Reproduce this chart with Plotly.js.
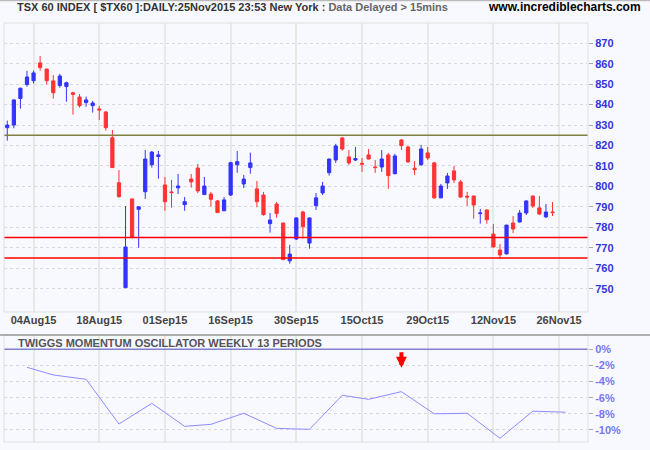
<!DOCTYPE html>
<html><head><meta charset="utf-8">
<script src="https://cdn.plot.ly/plotly-3.0.1.min.js"></script>
<style>html,body{margin:0;padding:0;background:#f8f9ff}#chart{width:650px;height:450px}</style>
</head><body><div id="chart"></div>
<script>
// Trading sessions on the axis (TSX), including the two days after the last close
const sessions = [
 "2015-07-28","2015-07-29","2015-07-30","2015-07-31",
 "2015-08-04","2015-08-05","2015-08-06","2015-08-07",
 "2015-08-10","2015-08-11","2015-08-12","2015-08-13","2015-08-14",
 "2015-08-17","2015-08-18","2015-08-19","2015-08-20","2015-08-21",
 "2015-08-24","2015-08-25","2015-08-26","2015-08-27","2015-08-28",
 "2015-08-31","2015-09-01","2015-09-02","2015-09-03","2015-09-04",
 "2015-09-08","2015-09-09","2015-09-10","2015-09-11",
 "2015-09-14","2015-09-15","2015-09-16","2015-09-17","2015-09-18",
 "2015-09-21","2015-09-22","2015-09-23","2015-09-24","2015-09-25",
 "2015-09-28","2015-09-29","2015-09-30","2015-10-01","2015-10-02",
 "2015-10-05","2015-10-06","2015-10-07","2015-10-08","2015-10-09",
 "2015-10-13","2015-10-14","2015-10-15","2015-10-16",
 "2015-10-19","2015-10-20","2015-10-21","2015-10-22","2015-10-23",
 "2015-10-26","2015-10-27","2015-10-28","2015-10-29","2015-10-30",
 "2015-11-02","2015-11-03","2015-11-04","2015-11-05","2015-11-06",
 "2015-11-09","2015-11-10","2015-11-11","2015-11-12","2015-11-13",
 "2015-11-16","2015-11-17","2015-11-18","2015-11-19","2015-11-20",
 "2015-11-23","2015-11-24","2015-11-25","2015-11-26","2015-11-27"
];
const open = [828.7,830.0,843.0,849.8,851.7,860.4,857.4,851.6,849.3,848.8,
 845.8,843.7,841.0,839.5,837.9,836.4,823.8,801.8,750.5,793.9,
 788.8,797.4,810.6,814.6,800.7,797.3,799.3,791.1,803.6,809.0,
 796.0,796.3,792.9,788.1,795.8,810.6,801.2,809.2,798.8,795.8,
 781.8,791.4,782.1,763.6,774.3,787.5,772.3,790.6,796.8,806.7,
 812.9,823.7,814.4,812.9,811.3,815.4,809.5,809.5,815.4,806.2,
 822.7,819.3,808.9,810.6,816.4,811.5,794.4,801.7,807.6,802.2,
 795.2,795.3,786.7,788.5,776.7,768.9,767.0,782.1,782.6,787.0,
 795.3,789.5,785.1,787.5];
const high = [832.2,842.5,848.3,856.5,856.6,863.8,857.5,854.5,855.0,851.2,
 846.3,845.2,843.9,841.8,839.3,836.9,827.6,808.0,790.4,794.0,
 790.4,817.8,817.3,817.3,804.6,803.2,806.1,794.8,806.1,811.0,
 804.6,797.3,793.4,794.8,812.1,817.3,805.6,816.5,802.7,797.3,
 787.0,792.4,782.3,771.4,784.8,788.1,784.8,796.8,802.2,813.6,
 820.8,824.2,817.8,819.3,813.9,818.3,812.9,817.8,816.4,815.9,
 823.2,819.8,812.4,820.3,819.3,812.0,801.2,806.6,810.0,803.2,
 797.3,795.5,789.0,788.6,781.6,771.9,781.2,785.5,788.5,793.1,
 795.5,795.3,791.4,792.4];
const low = [822.4,828.4,838.0,848.8,850.4,856.6,849.8,842.9,848.3,841.4,
 835.1,838.5,839.0,836.1,832.5,827.3,809.0,794.5,750.5,774.6,
 770.0,793.9,809.2,803.8,788.1,789.6,796.3,788.1,799.4,796.7,
 796.0,790.1,787.0,788.0,795.3,806.7,799.2,806.2,789.8,785.7,
 777.4,784.7,764.0,762.2,773.8,774.5,769.6,788.5,795.8,805.3,
 811.5,817.5,810.5,812.4,807.1,813.3,806.6,807.1,798.8,806.0,
 817.8,811.5,805.6,810.1,812.9,793.9,794.2,798.8,801.7,794.4,
 790.4,784.2,781.8,781.8,770.2,764.5,766.8,777.2,782.4,786.0,
 789.5,786.0,784.6,785.5];
const close = [830.0,842.3,848.0,853.5,855.5,858.1,851.7,845.8,854.0,850.7,
 845.0,839.5,842.3,840.8,837.4,828.7,809.2,795.0,770.4,775.3,
 790.0,813.4,816.8,815.4,792.5,797.0,800.2,792.5,802.2,797.8,
 800.2,793.7,787.2,793.4,811.6,812.1,803.6,811.5,792.5,786.2,
 783.6,786.7,764.2,766.9,784.6,780.3,784.6,794.4,800.2,813.4,
 819.8,818.3,811.5,813.6,810.9,813.4,809.2,813.4,805.3,814.9,
 819.9,812.0,808.2,818.3,813.9,794.4,800.2,805.1,803.2,794.8,
 794.8,790.9,787.0,783.7,770.4,766.5,781.1,779.2,787.0,792.9,
 790.4,786.5,787.5,787.2];

// Weekly Twiggs Momentum (13 periods), %
const weekDates = ["2015-07-31","2015-08-07","2015-08-14","2015-08-21","2015-08-28",
 "2015-09-04","2015-09-11","2015-09-18","2015-09-25","2015-10-02","2015-10-09",
 "2015-10-16","2015-10-23","2015-10-30","2015-11-06","2015-11-13","2015-11-20","2015-11-27"];
const momentum = [-2.23,-3.18,-3.72,-9.26,-6.7,-9.55,-9.3,-7.93,-9.8,-9.92,-5.7,
 -6.2,-5.25,-8.0,-7.93,-11.03,-7.67,-7.8];

const tickDates = ["2015-08-04","2015-08-18","2015-09-01","2015-09-16","2015-09-30",
 "2015-10-15","2015-10-29","2015-11-12","2015-11-26"];
const tickLabels = ["04Aug15","18Aug15","01Sep15","16Sep15","30Sep15","15Oct15","29Oct15","12Nov15","26Nov15"];
const priceTicks = [750,760,770,780,790,800,810,820,830,840,850,860,870];
const momTicks = [0,-2,-4,-6,-8,-10];
const momLabels = ["0%","-2%","-4%","-6%","-8%","-10%"];
const resistance = [825];
const support = [775,765];
const signalDate = "2015-10-23";
const signalLevel = -2.3;

const idx = d => sessions.indexOf(d);
const xs = open.map((_, i) => i);
const BLUE = '#3333ff', RED = '#ff3333';
const FONT = 'Liberation Sans, Arial, sans-serif';

const candles = {
  type: 'candlestick', x: xs, open: open, high: high, low: low, close: close,
  xaxis: 'x', yaxis: 'y', hoverinfo: 'skip',
  increasing: {line: {color: BLUE, width: 1}, fillcolor: BLUE},
  decreasing: {line: {color: RED, width: 1}, fillcolor: RED},
  whiskerwidth: 0
};
const mom = {
  type: 'scatter', mode: 'lines', x: weekDates.map(idx), y: momentum,
  xaxis: 'x2', yaxis: 'y2', hoverinfo: 'skip',
  line: {color: '#8c8cff', width: 1}
};

const shapes = [];
resistance.forEach(v => shapes.push({type:'line', xref:'x domain', yref:'y', x0:0, x1:1, y0:v, y1:v,
  line:{color:'#808040', width:1.5}}));
support.forEach(v => shapes.push({type:'line', xref:'x domain', yref:'y', x0:0, x1:1, y0:v, y1:v,
  line:{color:'#ff0000', width:1.5}}));
shapes.push({type:'line', xref:'x2 domain', yref:'y2', x0:0, x1:1, y0:0, y1:0, line:{color:'#8080cc', width:1.5}});
// frames
shapes.push({type:'rect', xref:'x domain', yref:'y domain', x0:0, x1:1, y0:0, y1:1, line:{color:'#e0e0e0', width:1}});
shapes.push({type:'rect', xref:'x2 domain', yref:'y2 domain', x0:0, x1:1, y0:0, y1:1, line:{color:'#e0e0e0', width:1}});
shapes.push({type:'line', xref:'paper', yref:'paper', x0:-0.01, x1:1.2, y0:0.2426, y1:0.2426, line:{color:'#999999', width:1.5}});
shapes.push({type:'line', xref:'paper', yref:'paper', x0:-0.01, x1:1.2, y0:1.0011, y1:1.0011, line:{color:'#bbbbbb', width:1.5}});

const axisX = {
  range: [-0.5, 88.4], tickmode: 'array', tickvals: tickDates.map(idx), ticktext: tickLabels,
  showgrid: true, gridcolor: '#e8e8e8', gridwidth: 2, zeroline: false, showline: false, ticks: '',
  tickfont: {family: FONT, size: 11, color: '#444444', weight: 'bold'},
  rangeslider: {visible: false}, fixedrange: true
};

const layout = {
  width: 650, height: 450,
  margin: {l: 4, r: 62, t: 1, b: 8},
  paper_bgcolor: '#f8f9ff', plot_bgcolor: '#f8f9ff',
  showlegend: false,
  xaxis: Object.assign({}, axisX, {anchor: 'y'}),
  xaxis2: Object.assign({}, axisX, {anchor: 'y2', matches: 'x', showticklabels: false}),
  yaxis: {
    domain: [0.2948, 0.9501], range: [738.6, 879.9], side: 'right', anchor: 'x',
    tickmode: 'array', tickvals: priceTicks,
    showgrid: true, gridcolor: '#d9d9d9', griddash: 'dot', gridwidth: 1, zeroline: false,
    ticks: 'outside', ticklen: 4, tickcolor: '#aaaaaa',
    tickfont: {family: FONT, size: 11, color: '#3333dd', weight: 'bold'}, fixedrange: true
  },
  yaxis2: {
    domain: [0, 0.2426], range: [-11.49, 1.77], side: 'right', anchor: 'x2',
    tickmode: 'array', tickvals: momTicks, ticktext: momLabels,
    showgrid: true, gridcolor: '#d9d9d9', griddash: 'dot', gridwidth: 1, zeroline: false,
    ticks: 'outside', ticklen: 4, tickcolor: '#aaaaaa',
    tickfont: {family: FONT, size: 11, color: '#7777ee', weight: 'bold'}, fixedrange: true
  },
  shapes: shapes,
  annotations: [
    {xref:'paper', yref:'paper', x:0, y:0.9853, xshift:11, xanchor:'left', yanchor:'middle', showarrow:false,
     text:'TSX 60 INDEX [ $TX60 ]:DAILY:25Nov2015 23:53 New York : <span style="color:#666666">Data Delayed &gt; 15mins</span>',
     font:{family:FONT, size:11, color:'#333333', weight:'bold'}},
    {xref:'paper', yref:'paper', x:1.095, y:0.9853, xanchor:'right', yanchor:'middle', showarrow:false,
     text:'www.incrediblecharts.com', font:{family:FONT, size:12, color:'#000000', weight:'bold'}},
    {xref:'paper', yref:'paper', x:0, y:0.2234, xshift:12, xanchor:'left', yanchor:'middle', showarrow:false,
     text:'TWIGGS MOMENTUM OSCILLATOR WEEKLY 13 PERIODS', font:{family:FONT, size:11, color:'#555555', weight:'bold'}},
    {xref:'x2', yref:'y2', x: idx(signalDate), y: signalLevel, ax: 0, ay: -17, showarrow: true,
     arrowcolor:'#ff0000', arrowwidth:4, arrowhead:2, arrowsize:0.55, standoff:0, text:''}
  ]
};

Plotly.newPlot('chart', [candles, mom], layout, {staticPlot: true, displayModeBar: false});
</script></body></html>
